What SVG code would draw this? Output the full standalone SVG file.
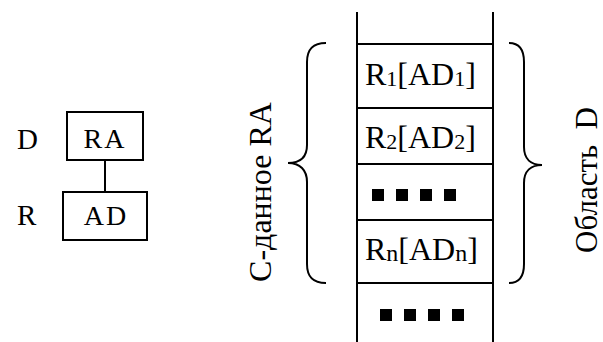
<svg xmlns="http://www.w3.org/2000/svg" width="603" height="342" viewBox="0 0 603 342">
  <style>
    text { font-family: 'Liberation Serif', 'DejaVu Serif', serif; fill: #000; }
    .ln { stroke: #000; stroke-width: 2; fill: none; }
    .box { stroke: #000; stroke-width: 2; fill: #fff; }
    .sq { fill: #000; }
  </style>
  <rect width="603" height="342" fill="#fff"/>

  <!-- left schema: RA over AD -->
  <g id="connectors">
    <line class="ln" x1="105" y1="160" x2="105" y2="192"/>
  </g>
  <g id="node-ra">
    <rect class="box" x="67" y="112" width="76" height="48"/>
    <text x="105" y="148" font-size="28" text-anchor="middle" letter-spacing="2">RA</text>
  </g>
  <g id="node-ad">
    <rect class="box" x="63" y="192" width="84" height="48"/>
    <text x="106" y="225" font-size="28" text-anchor="middle" letter-spacing="2">AD</text>
  </g>
  <g id="label-d"><text x="17" y="149" font-size="29">D</text></g>
  <g id="label-r"><text x="17" y="225" font-size="29">R</text></g>

  <!-- left brace and caption -->
  <g id="brace-left">
    <path class="ln" d="M326,43 C312,43 307,50 307,62 L307,145 C307,157 300,163 288,163 C300,163 307,170 307,182 L307,264 C307,276 312,283 326,283"/>
  </g>
  <g id="caption-left">
    <text font-size="32" text-anchor="middle" transform="translate(271,192) rotate(-90)">С-данное RA</text>
  </g>

  <!-- memory column -->
  <g id="column">
    <line class="ln" x1="357" y1="12" x2="357" y2="342"/>
    <line class="ln" x1="493" y1="12" x2="493" y2="342"/>
    <line class="ln" x1="357" y1="44" x2="493" y2="44"/>
    <line class="ln" x1="357" y1="108" x2="493" y2="108"/>
    <line class="ln" x1="357" y1="164" x2="493" y2="164"/>
    <line class="ln" x1="357" y1="220" x2="493" y2="220"/>
    <line class="ln" x1="357" y1="283" x2="493" y2="283"/>
  </g>
  <g id="cell-1">
    <text x="365" y="85" font-size="32">R<tspan font-size="22" dy="1">1</tspan><tspan dy="-1">[AD</tspan><tspan font-size="22" dy="1">1</tspan><tspan dy="-1">]</tspan></text>
  </g>
  <g id="cell-2">
    <text x="365" y="148" font-size="32">R<tspan font-size="22" dy="1">2</tspan><tspan dy="-1">[AD</tspan><tspan font-size="22" dy="1">2</tspan><tspan dy="-1">]</tspan></text>
  </g>
  <g id="cell-dots">
    <rect class="sq" x="372" y="189" width="12" height="12"/>
    <rect class="sq" x="396" y="189" width="12" height="12"/>
    <rect class="sq" x="420" y="189" width="12" height="12"/>
    <rect class="sq" x="444" y="189" width="12" height="12"/>
  </g>
  <g id="cell-n">
    <text x="365" y="260" font-size="32">R<tspan font-size="24" dy="1">n</tspan><tspan dy="-1">[AD</tspan><tspan font-size="24" dy="1">n</tspan><tspan dy="-1">]</tspan></text>
  </g>
  <g id="cell-dots-2">
    <rect class="sq" x="380" y="309" width="12" height="12"/>
    <rect class="sq" x="404" y="309" width="12" height="12"/>
    <rect class="sq" x="428" y="309" width="12" height="12"/>
    <rect class="sq" x="452" y="309" width="12" height="12"/>
  </g>

  <!-- right brace and caption -->
  <g id="brace-right">
    <path class="ln" d="M509,43 C519,43 524,50 524,62 L524,147 C524,159 531,165 542,165 C531,165 524,171 524,183 L524,264 C524,276 519,283 509,283"/>
  </g>
  <g id="caption-right">
    <text font-size="31" text-anchor="middle" transform="translate(597,180) rotate(-90)" xml:space="preserve">Область  D</text>
  </g>
</svg>
